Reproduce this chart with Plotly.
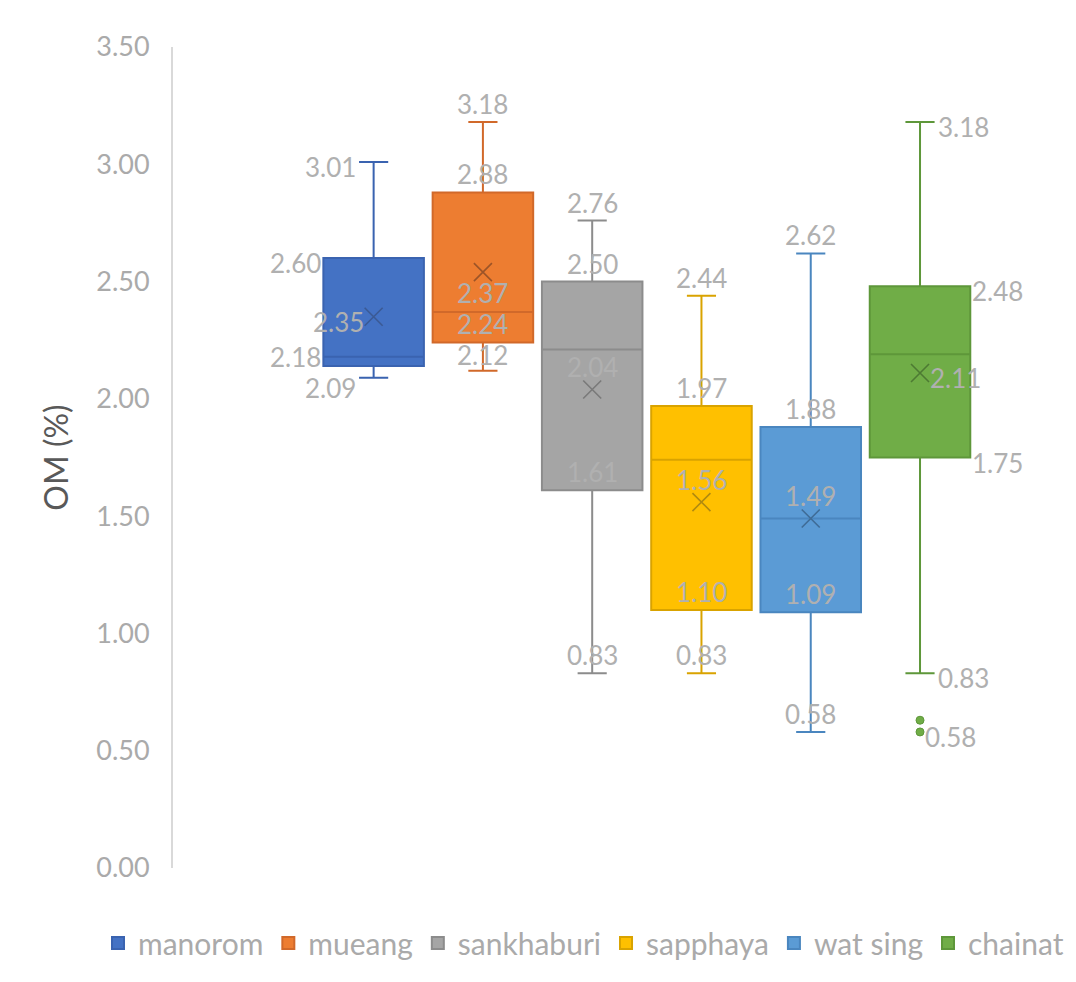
import plotly.graph_objects as go

# ---- data: organic matter (%) by site ----
sites = ["manorom", "mueang", "sankhaburi", "sapphaya", "wat sing", "chainat"]
lower_whisker = [2.09, 2.12, 0.83, 0.83, 0.58, 0.83]
q1 = [2.14, 2.24, 1.61, 1.10, 1.09, 1.75]
median = [2.18, 2.37, 2.21, 1.74, 1.49, 2.19]
q3 = [2.60, 2.88, 2.50, 1.97, 1.88, 2.48]
upper_whisker = [3.01, 3.18, 2.76, 2.44, 2.62, 3.18]
mean = [2.35, 2.54, 2.04, 1.56, 1.49, 2.11]
outliers = [[], [], [], [], [], [0.63, 0.58]]

# statistics that carry a value label for each site
labelled_stats = [
    ["max", "q3", "mean", "median", "min"],
    ["max", "q3", "median", "q1", "min"],
    ["max", "q3", "mean", "q1", "min"],
    ["max", "q3", "mean", "q1", "min"],
    ["max", "q3", "mean", "q1", "min"],
    ["max", "q3", "mean", "q1", "min"],
]
labelled_outliers = [[], [], [], [], [], [0.58]]

y_ticks = [0.0, 0.5, 1.0, 1.5, 2.0, 2.5, 3.0, 3.5]

# ---- styling ----
fill_colors = ["#4472C4", "#ED7D31", "#A5A5A5", "#FFC000", "#5B9BD5", "#70AD47"]
line_colors = ["#3A63B0", "#D1692A", "#8C8C8C", "#D9A300", "#4A86BF", "#5E973A"]
mark_colors = ["#3B5A94", "#9C5428", "#7A7A7A", "#B08A10", "#3F6C96", "#4D7A33"]
label_side = ["left", "above", "above", "above", "above", "right"]

FONT = "Lato"
LABEL_GRAY = "#B0B0B0"
TICK_GRAY = "#AAAAAA"
LABEL_SIZE = 26
LABEL_GAP = 31          # minimum vertical distance between labels of one box, px

W, H = 1076, 982
M_L, M_R, M_T, M_B = 173, 16, 47, 114
X_RANGE = [-1.836, 6.281]
Y_RANGE = [0, 3.5]
BOX_W = 0.92
WHISKER_W = 0.29
plot_w = W - M_L - M_R
plot_h = H - M_T - M_B
px_per_unit = plot_w / (X_RANGE[1] - X_RANGE[0])
px_per_y = plot_h / (Y_RANGE[1] - Y_RANGE[0])
half_box_px = BOX_W * px_per_unit / 2
half_cap_px = BOX_W * WHISKER_W * px_per_unit / 2

fig = go.Figure()

for i, name in enumerate(sites):
    fig.add_trace(go.Box(
        name=name,
        x=[i],
        q1=[q1[i]], median=[median[i]], q3=[q3[i]],
        lowerfence=[lower_whisker[i]], upperfence=[upper_whisker[i]],
        width=BOX_W,
        whiskerwidth=WHISKER_W,
        fillcolor=fill_colors[i],
        line=dict(color=line_colors[i], width=2),
        boxpoints=False,
        hoverinfo="skip",
    ))
    # mean marker
    fig.add_trace(go.Scatter(
        x=[i], y=[mean[i]], mode="markers", showlegend=False, hoverinfo="skip",
        marker=dict(symbol="x-thin-open", size=18, color=mark_colors[i],
                    line=dict(color=mark_colors[i], width=1.6)),
    ))
    if outliers[i]:
        fig.add_trace(go.Scatter(
            x=[i] * len(outliers[i]), y=outliers[i], mode="markers",
            showlegend=False, hoverinfo="skip",
            marker=dict(symbol="circle", size=8, color=fill_colors[i],
                        line=dict(color=line_colors[i], width=1)),
        ))


def spread(offsets_px):
    """Push label positions (screen px, downward) apart to at least LABEL_GAP."""
    pos = list(offsets_px)
    order = sorted(range(len(pos)), key=lambda k: pos[k])
    for _ in range(20):
        moved = False
        for a, b in zip(order, order[1:]):
            d = pos[b] - pos[a]
            if d < LABEL_GAP:
                push = (LABEL_GAP - d) / 2
                pos[a] -= push
                pos[b] += push
                moved = True
        if not moved:
            break
    return pos


# value labels
annotations = []
for i in range(len(sites)):
    stats = {"min": lower_whisker[i], "q1": q1[i], "median": median[i],
             "q3": q3[i], "max": upper_whisker[i], "mean": mean[i]}
    items = [(k, stats[k]) for k in labelled_stats[i]]
    items += [("outlier", v) for v in labelled_outliers[i]]

    side = label_side[i]
    # nominal label centre offset (px, downward) relative to the value
    nominal = []
    for kind, v in items:
        if side == "above":
            off = -(22 if kind == "mean" else 18)
        else:
            off = 5
        nominal.append(-v * px_per_y + off)
    placed = spread(nominal)

    for (kind, v), pos in zip(items, placed):
        if kind in ("q1", "q3", "median"):
            reach = half_box_px + 1
        elif kind in ("min", "max"):
            reach = half_cap_px + 2
        elif kind == "mean":
            reach = 9
        else:
            reach = 4
        centre_shift = -(pos + v * px_per_y)  # plotly yshift is upward
        ann = dict(x=i, y=v, xref="x", yref="y", text=f"{v:.2f}",
                   showarrow=False, borderpad=0, yanchor="middle",
                   yshift=centre_shift,
                   font=dict(family=FONT, size=LABEL_SIZE, color=LABEL_GRAY))
        if side == "left":
            ann.update(xanchor="right", xshift=-reach)
        elif side == "right":
            ann.update(xanchor="left", xshift=reach)
        else:
            ann.update(xanchor="center")
        annotations.append(ann)

fig.update_layout(
    width=W, height=H,
    margin=dict(l=M_L, r=M_R, t=M_T, b=M_B),
    paper_bgcolor="white", plot_bgcolor="white",
    showlegend=True,
    # anchored in the left margin so the single row may use the full width
    legend=dict(orientation="h",
                x=-(M_L - 98) / plot_w, xanchor="left",
                y=-(943 - (H - M_B)) / plot_h, yanchor="middle",
                font=dict(family=FONT, size=30, color=TICK_GRAY),
                itemwidth=30, itemclick=False),
    annotations=annotations,
    xaxis=dict(range=X_RANGE, showgrid=False, zeroline=False, showline=False,
               showticklabels=False, ticks=""),
    yaxis=dict(range=Y_RANGE, tickvals=y_ticks,
               ticktext=[f"{t:.2f}" for t in y_ticks],
               showgrid=False, zeroline=False,
               showline=True, linecolor="#D9D9D9", linewidth=2,
               ticks="", ticklabelstandoff=16,
               tickfont=dict(family=FONT, size=27, color=TICK_GRAY),
               title=dict(text="OM (%)", standoff=18,
                          font=dict(family=FONT, size=32, color="#595959"))),
)

fig.write_html("out.html")
